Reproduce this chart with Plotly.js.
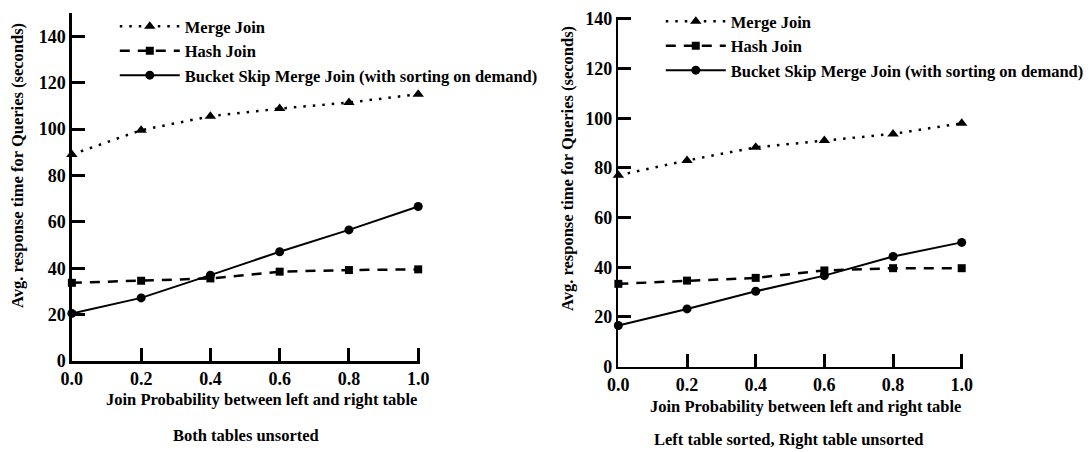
<!DOCTYPE html>
<html>
<head>
<meta charset="utf-8">
<script src="https://cdn.plot.ly/plotly-3.0.1.min.js"></script>
<style>html,body{margin:0;padding:0;background:#fff;}#chart{width:1089px;height:452px;}</style>
</head>
<body>
<div id="chart"></div>
<script>
// ---- data ----
const joinProb = [0, 0.2, 0.4, 0.6, 0.8, 1.0];
const xTickLabels = ['0.0', '0.2', '0.4', '0.6', '0.8', '1.0'];
const yTickVals = [0, 20, 40, 60, 80, 100, 120, 140];
const seriesNames = ['Merge Join', 'Hash Join', 'Bucket Skip Merge Join (with sorting on demand)'];

const mergeLeft = [89, 99.5, 105.5, 108.8, 111.4, 115];
const hashLeft = [33.7, 34.6, 35.6, 38.5, 39.2, 39.5];
const bsmjLeft = [20.5, 27.2, 37, 47.1, 56.5, 66.6];

const mergeRight = [77, 83, 88.3, 91, 93.7, 98];
const hashRight = [33.3, 34.6, 35.7, 38.7, 39.6, 39.6];
const bsmjRight = [16.5, 23.2, 30.3, 36.6, 44.3, 50];

const xTitle = 'Join Probability between left and right table';
const yTitle = 'Avg. response time for Queries (seconds)';
const captionLeft = 'Both tables unsorted';
const captionRight = 'Left table sorted, Right table unsorted';

// ---- styles ----
const FONT = '"Liberation Serif", "Times New Roman", serif';
const W = 1089, H = 452;
const styles = [
  {symbol: 'triangle-up', dash: '2.5px,7px', width: 2.5, size: 10},
  {symbol: 'square', dash: '10px,8px', width: 2.5, size: 8},
  {symbol: 'circle', dash: 'solid', width: 2, size: 9}
];

function mk(vals, i, xa, ya, leg) {
  return {
    x: joinProb, y: vals, xaxis: xa, yaxis: ya, legend: leg,
    name: seriesNames[i], type: 'scatter', mode: 'lines+markers',
    line: {color: '#000', width: styles[i].width, dash: styles[i].dash},
    marker: {color: '#000', symbol: styles[i].symbol, size: styles[i].size},
    cliponaxis: false
  };
}

const data = [
  mk(mergeLeft, 0, 'x', 'y', 'legend'),
  mk(hashLeft, 1, 'x', 'y', 'legend'),
  mk(bsmjLeft, 2, 'x', 'y', 'legend'),
  mk(mergeRight, 0, 'x2', 'y2', 'legend2'),
  mk(hashRight, 1, 'x2', 'y2', 'legend2'),
  mk(bsmjRight, 2, 'x2', 'y2', 'legend2')
];

const px = v => v / W;
const py = v => 1 - v / H;

function xax(domain, anchor) {
  return {
    domain: domain, anchor: anchor, range: [0, 1.005], tickvals: joinProb, ticktext: xTickLabels,
    showline: true, linecolor: '#000', linewidth: 2.5, showgrid: false, zeroline: false,
    ticks: 'inside', ticklen: 13, tickwidth: 3, tickcolor: '#000',
    tickfont: {family: FONT, size: 18, color: '#000', weight: 'bold'}
  };
}
function yax(domain, anchor, top) {
  return {
    domain: domain, anchor: anchor, range: [0, top], tickvals: yTickVals,
    showline: true, linecolor: '#000', linewidth: 2.5, showgrid: false, zeroline: false,
    ticks: 'inside', ticklen: 13, tickwidth: 3, tickcolor: '#000',
    tickfont: {family: FONT, size: 18, color: '#000', weight: 'bold'}
  };
}

const legendBase = {
  xanchor: 'left', yanchor: 'top', bgcolor: 'rgba(0,0,0,0)', borderwidth: 0,
  font: {family: FONT, size: 16.5, color: '#000', weight: 'bold'}, itemwidth: 60,
  tracegroupgap: 0
};

const ann = (text, x, y, size, angle) => ({
  text: text, x: px(x), y: py(y), xref: 'paper', yref: 'paper', showarrow: false,
  xanchor: 'center', yanchor: 'middle', textangle: angle || 0,
  font: {family: FONT, size: size, color: '#000', weight: 'bold'}
});

const layout = {
  width: W, height: H, margin: {l: 0, r: 0, t: 0, b: 0},
  paper_bgcolor: '#fff', plot_bgcolor: '#fff',
  showlegend: true,
  xaxis: xax([px(72), px(420.7)], 'y'),
  yaxis: yax([py(361), py(13)], 'x', 150),
  xaxis2: xax([px(619.5), px(965.2)], 'y2'),
  yaxis2: yax([py(366.5), py(16.5)], 'x2', 141),
  legend: Object.assign({}, legendBase, {x: px(115), y: py(9)}),
  legend2: Object.assign({}, legendBase, {x: px(662), y: py(4)}),
  annotations: [
    ann(xTitle, 262, 399, 16.5),
    ann(captionLeft, 246, 435, 16.5),
    ann(yTitle, 18, 165, 16.5, -90),
    ann(xTitle, 807, 406, 16.5),
    ann(captionRight, 790, 439, 16.5),
    ann(yTitle, 568, 168, 16.5, -90)
  ]
};

Plotly.newPlot('chart', data, layout, {displayModeBar: false, staticPlot: true});
</script>
</body>
</html>
